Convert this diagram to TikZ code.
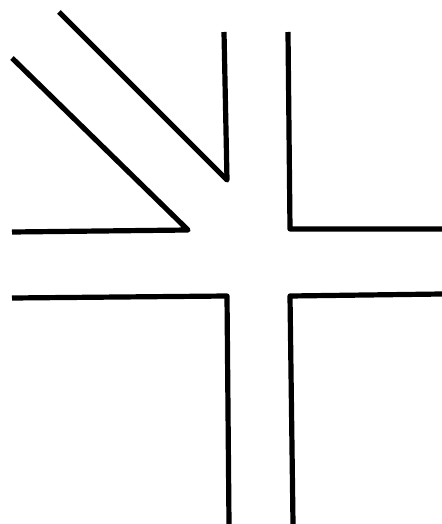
\documentclass[tikz,border=0pt]{standalone}
\usepackage{tikz}
\tikzset{
  kerb/.style={line width=2.6pt,black,line join=round,line cap=butt}
}
\begin{document}
\begin{tikzpicture}[x=0.5pt,y=-0.5pt]
\useasboundingbox[fill=white] (0,0) rectangle (442,524);
% slip road from top left
\draw[kerb] (59,12)--(227,180)--(224,32);
\draw[kerb] (12,58)--(188,230)--(12,232);
% north-east corner
\draw[kerb] (288,32)--(290,229)--(442,229);
% south corners
\draw[kerb] (12,298)--(227,296)--(229,524);
\draw[kerb] (442,294)--(290,296)--(293,524);
\end{tikzpicture}
\end{document}
